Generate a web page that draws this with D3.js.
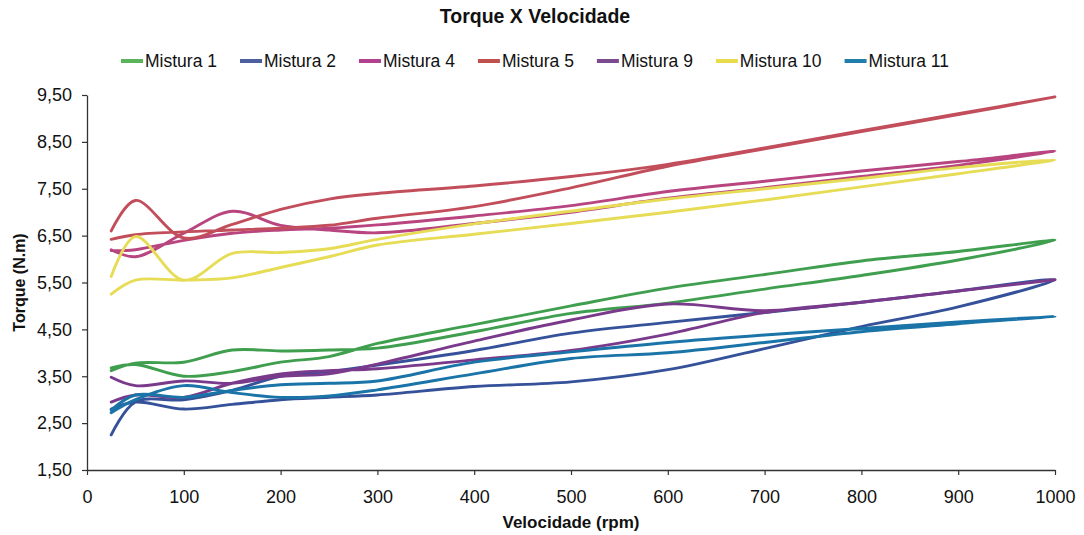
<!DOCTYPE html>
<html>
<head>
<meta charset="utf-8">
<script src="https://cdn.jsdelivr.net/npm/d3@7"></script>
<style>
  html, body { margin: 0; padding: 0; background: #fff; }
  svg { display: block; font-family: "Liberation Sans", Arial, sans-serif; }
</style>
</head>
<body>
<svg id="chart" width="1084" height="535"></svg>
<script>
// ---- data ----
const rpmUp   = [25, 50, 100, 150, 200, 250, 300, 400, 500, 600, 700, 800, 900, 1000];
const rpmDown = [900, 800, 700, 600, 500, 400, 300, 250, 200, 150, 100, 50, 25];

const seriesNames = ["Mistura 1", "Mistura 2", "Mistura 4", "Mistura 5", "Mistura 9", "Mistura 10", "Mistura 11"];

const mistura1Up    = [3.62, 3.78, 3.80, 4.06, 4.04, 4.06, 4.10, 4.45, 4.84, 5.06, 5.36, 5.65, 5.98, 6.40];
const mistura1Down  = [6.16, 5.96, 5.67, 5.38, 5.00, 4.60, 4.20, 3.92, 3.80, 3.60, 3.50, 3.75, 3.68];
const mistura2Up    = [2.25, 2.95, 3.00, 3.20, 3.50, 3.60, 3.74, 4.05, 4.42, 4.65, 4.86, 5.08, 5.32, 5.56];
const mistura2Down  = [4.98, 4.56, 4.09, 3.64, 3.38, 3.28, 3.10, 3.05, 3.00, 2.90, 2.80, 2.95, 2.80];
const mistura4Up    = [6.20, 6.05, 6.55, 7.02, 6.72, 6.62, 6.56, 6.76, 7.00, 7.30, 7.52, 7.76, 8.00, 8.30];
const mistura4Down  = [8.08, 7.88, 7.66, 7.44, 7.14, 6.92, 6.73, 6.66, 6.62, 6.55, 6.40, 6.20, 6.18];
const mistura5Up    = [6.60, 7.25, 6.45, 6.74, 7.06, 7.28, 7.40, 7.56, 7.76, 8.02, 8.37, 8.74, 9.10, 9.46];
const mistura5Down  = [9.08, 8.72, 8.35, 7.98, 7.52, 7.12, 6.87, 6.72, 6.66, 6.62, 6.58, 6.52, 6.42];
const mistura9Up    = [2.95, 3.10, 3.05, 3.35, 3.55, 3.62, 3.66, 3.85, 4.05, 4.40, 4.86, 5.08, 5.32, 5.56];
const mistura9Down  = [5.32, 5.08, 4.90, 5.04, 4.70, 4.25, 3.76, 3.55, 3.50, 3.35, 3.40, 3.30, 3.48];
const mistura10Up   = [5.25, 5.55, 5.55, 5.60, 5.82, 6.05, 6.30, 6.53, 6.76, 7.00, 7.26, 7.54, 7.82, 8.12];
const mistura10Down = [7.95, 7.72, 7.50, 7.28, 7.02, 6.75, 6.42, 6.22, 6.14, 6.12, 5.55, 6.48, 5.63];
const mistura11Up   = [2.72, 3.00, 3.30, 3.15, 3.05, 3.08, 3.21, 3.55, 3.88, 4.00, 4.22, 4.45, 4.62, 4.78];
const mistura11Down = [4.66, 4.52, 4.38, 4.22, 4.02, 3.80, 3.40, 3.35, 3.32, 3.20, 3.05, 3.10, 2.78];

const yTicks = [1.5, 2.5, 3.5, 4.5, 5.5, 6.5, 7.5, 8.5, 9.5];
const xTicks = [0, 100, 200, 300, 400, 500, 600, 700, 800, 900, 1000];

const colors = ["#3f9f4f", "#34519a", "#b8457f", "#c24e5c", "#7a3a8c", "#e6dc55", "#1a74a8"];
const legendColors = ["#5ab55a", "#4c5f9e", "#b0418e", "#c0504d", "#7e4a8f", "#e9dc4c", "#1f7eaa"];

// ---- build series table ----
const ups = [mistura1Up, mistura2Up, mistura4Up, mistura5Up, mistura9Up, mistura10Up, mistura11Up];
const downs = [mistura1Down, mistura2Down, mistura4Down, mistura5Down, mistura9Down, mistura10Down, mistura11Down];
const series = seriesNames.map((name, i) => ({
  name,
  color: colors[i],
  legendColor: legendColors[i],
  points: rpmUp.map((r, j) => [r, ups[i][j]]).concat(rpmDown.map((r, j) => [r, downs[i][j]]))
}));

// ---- layout ----
const svg = d3.select("#chart");
const x = d3.scaleLinear().domain([0, 1000]).range([87, 1055]);
const y = d3.scaleLinear().domain([1.5, 9.5]).range([470, 95]);

// title
svg.append("text")
  .attr("x", 535).attr("y", 23)
  .attr("text-anchor", "middle")
  .attr("font-weight", "bold").attr("font-size", 19.5)
  .attr("fill", "#111")
  .text("Torque X Velocidade");

// lines
svg.append("clipPath").attr("id", "plotclip")
  .append("rect").attr("x", 87).attr("y", 80).attr("width", 980).attr("height", 392);

const line = d3.line()
  .x(d => x(d[0])).y(d => y(d[1]))
  .curve(d3.curveCatmullRom.alpha(0.5));

svg.append("g").attr("clip-path", "url(#plotclip)")
  .selectAll("path").data(series).join("path")
  .attr("d", d => line(d.points))
  .attr("fill", "none")
  .attr("stroke", d => d.color)
  .attr("stroke-width", 2.9)
  .attr("stroke-linejoin", "round")
  .attr("stroke-linecap", "round");

// axes
const fmt = d => d.toFixed(2).replace(".", ",");
const yAxis = svg.append("g").attr("transform", `translate(${x(0)},0)`)
  .call(d3.axisLeft(y).tickValues(yTicks).tickFormat(fmt).tickSize(5).tickSizeOuter(0).tickPadding(10));
const xAxis = svg.append("g").attr("transform", `translate(0,${y(1.5)})`)
  .call(d3.axisBottom(x).tickValues(xTicks).tickFormat(d3.format("d")).tickSize(5).tickSizeOuter(0).tickPadding(15));

[yAxis, xAxis].forEach(g => {
  g.select(".domain").attr("stroke", "#333").attr("stroke-width", 1.3);
  g.selectAll(".tick line").attr("stroke", "#333").attr("stroke-width", 1.2);
  g.selectAll(".tick text").attr("font-size", 18).attr("fill", "#111")
    .attr("font-family", "'Liberation Sans', Arial, sans-serif");
});

// axis titles
svg.append("text")
  .attr("transform", `translate(25,${(y(1.5) + y(9.5)) / 2}) rotate(-90)`)
  .attr("text-anchor", "middle")
  .attr("font-weight", "bold").attr("font-size", 16).attr("fill", "#111")
  .text("Torque (N.m)");
svg.append("text")
  .attr("x", (x(0) + x(1000)) / 2).attr("y", 528)
  .attr("text-anchor", "middle")
  .attr("font-weight", "bold").attr("font-size", 17).attr("fill", "#111")
  .text("Velocidade (rpm)");

// legend
const legend = svg.append("g");
const items = legend.selectAll("g").data(series).join("g");
items.append("line")
  .attr("x1", 0).attr("x2", 22).attr("y1", 0).attr("y2", 0)
  .attr("stroke", d => d.legendColor).attr("stroke-width", 4);
items.append("text")
  .attr("x", 24).attr("y", 6)
  .attr("font-size", 17.5).attr("fill", "#111")
  .text(d => d.name);
let cursor = 0;
const gap = 23;
items.each(function () {
  const g = d3.select(this);
  g.attr("transform", `translate(${cursor},0)`);
  const w = 24 + g.select("text").node().getComputedTextLength();
  cursor += w + gap;
});
const total = cursor - gap;
legend.attr("transform", `translate(${535 - total / 2},61)`);
</script>
</body>
</html>
